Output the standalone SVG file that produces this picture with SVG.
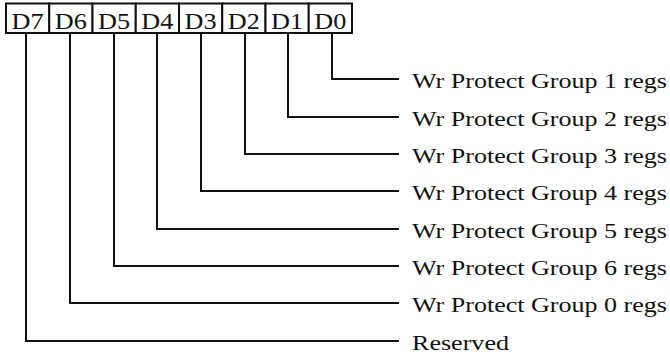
<svg xmlns="http://www.w3.org/2000/svg" width="670" height="356" viewBox="0 0 670 356">
<style>
.box{fill:#fff;stroke:#111;stroke-width:2}
.bl{font-family:"Liberation Serif","Times New Roman",serif;font-size:24px;fill:#111}
.lb{font-family:"Liberation Serif","Times New Roman",serif;font-size:22px;fill:#111}
.c{fill:none;stroke:#111;stroke-width:2}
</style>
<rect width="670" height="356" fill="#fff"/>
<g id="register">
<g id="D7"><rect class="box" x="6" y="3.5" width="43.25" height="29.5"/><text class="bl" x="11.5" y="29" textLength="32" lengthAdjust="spacingAndGlyphs">D7</text></g>
<g id="D6"><rect class="box" x="49.25" y="3.5" width="43.25" height="29.5"/><text class="bl" x="54.75" y="29" textLength="32" lengthAdjust="spacingAndGlyphs">D6</text></g>
<g id="D5"><rect class="box" x="92.5" y="3.5" width="43.25" height="29.5"/><text class="bl" x="98" y="29" textLength="32" lengthAdjust="spacingAndGlyphs">D5</text></g>
<g id="D4"><rect class="box" x="135.75" y="3.5" width="43.25" height="29.5"/><text class="bl" x="141.25" y="29" textLength="32" lengthAdjust="spacingAndGlyphs">D4</text></g>
<g id="D3"><rect class="box" x="179" y="3.5" width="43.25" height="29.5"/><text class="bl" x="184.5" y="29" textLength="32" lengthAdjust="spacingAndGlyphs">D3</text></g>
<g id="D2"><rect class="box" x="222.25" y="3.5" width="43.25" height="29.5"/><text class="bl" x="227.75" y="29" textLength="32" lengthAdjust="spacingAndGlyphs">D2</text></g>
<g id="D1"><rect class="box" x="265.5" y="3.5" width="43.25" height="29.5"/><text class="bl" x="271" y="29" textLength="32" lengthAdjust="spacingAndGlyphs">D1</text></g>
<g id="D0"><rect class="box" x="308.75" y="3.5" width="43.25" height="29.5"/><text class="bl" x="314.25" y="29" textLength="32" lengthAdjust="spacingAndGlyphs">D0</text></g>
</g>
<g id="connectors">
<polyline class="c" points="332,33 332,79 399,79"/>
<polyline class="c" points="288,33 288,117 399,117"/>
<polyline class="c" points="245,33 245,154 399,154"/>
<polyline class="c" points="201,33 201,191 399,191"/>
<polyline class="c" points="157,33 157,229 399,229"/>
<polyline class="c" points="114,33 114,266 399,266"/>
<polyline class="c" points="70,33 70,303 399,303"/>
<polyline class="c" points="26,33 26,341 399,341"/>
</g>
<g id="labels">
<text class="lb" x="412" y="87.5" textLength="255" lengthAdjust="spacingAndGlyphs">Wr Protect Group 1 regs</text>
<text class="lb" x="412" y="125.5" textLength="255" lengthAdjust="spacingAndGlyphs">Wr Protect Group 2 regs</text>
<text class="lb" x="412" y="162.5" textLength="255" lengthAdjust="spacingAndGlyphs">Wr Protect Group 3 regs</text>
<text class="lb" x="412" y="199.5" textLength="255" lengthAdjust="spacingAndGlyphs">Wr Protect Group 4 regs</text>
<text class="lb" x="412" y="237.5" textLength="255" lengthAdjust="spacingAndGlyphs">Wr Protect Group 5 regs</text>
<text class="lb" x="412" y="274.5" textLength="255" lengthAdjust="spacingAndGlyphs">Wr Protect Group 6 regs</text>
<text class="lb" x="412" y="311.5" textLength="255" lengthAdjust="spacingAndGlyphs">Wr Protect Group 0 regs</text>
<text class="lb" x="412" y="349.5" textLength="97" lengthAdjust="spacingAndGlyphs">Reserved</text>
</g>
</svg>
